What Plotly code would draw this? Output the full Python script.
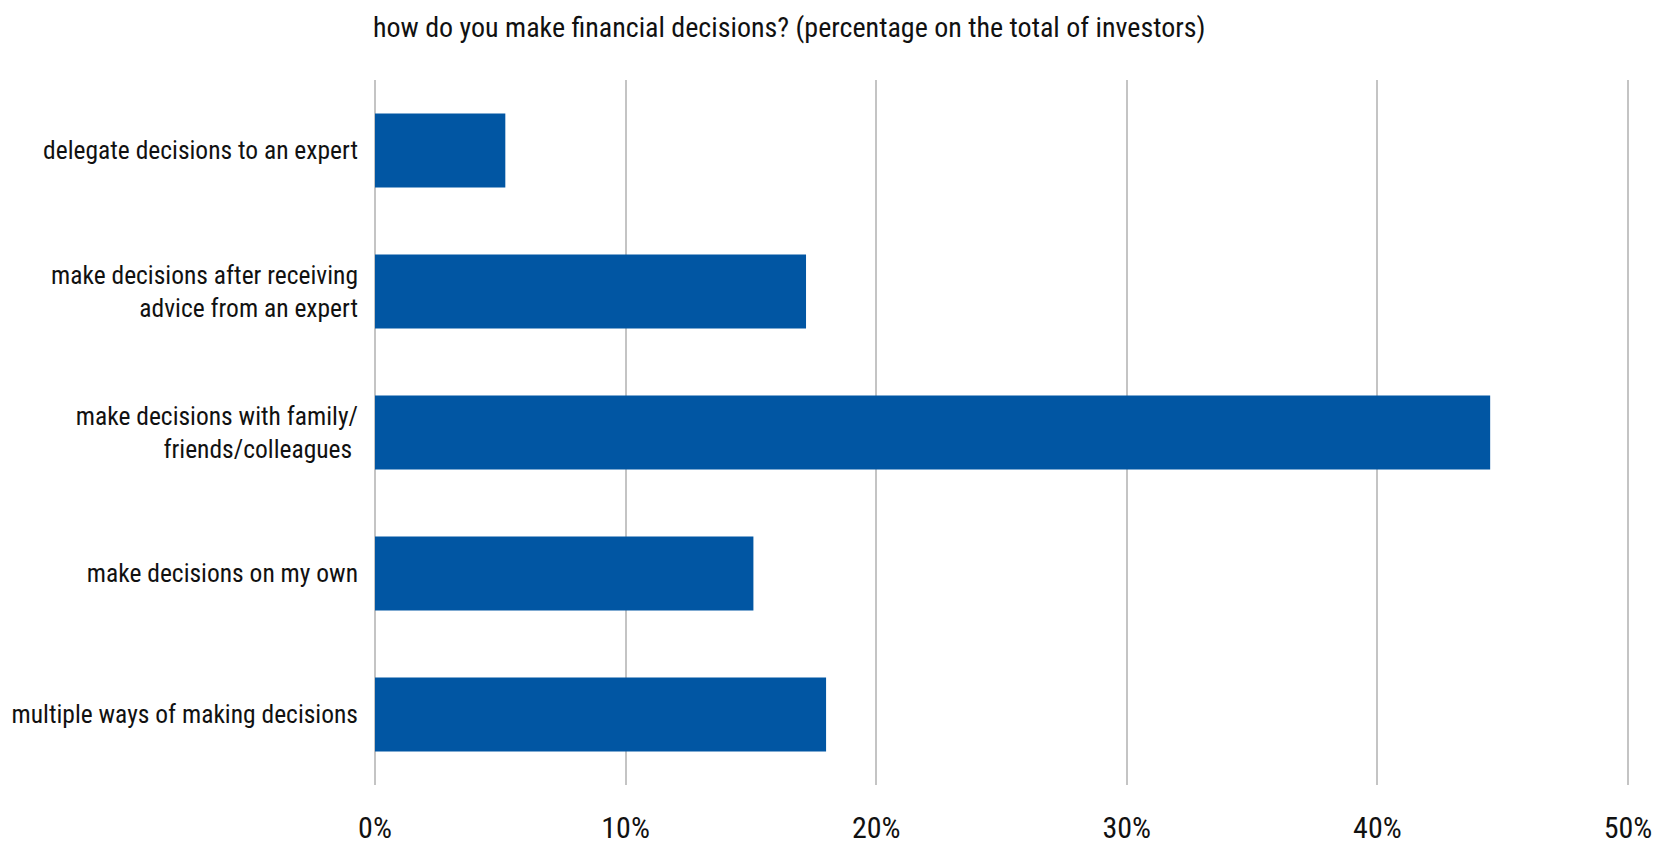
import plotly.graph_objects as go

categories = [
    "delegate decisions to an expert",
    "make decisions after receiving<br>advice from an expert",
    "make decisions with family/<br>friends/colleagues ",
    "make decisions on my own",
    "multiple ways of making decisions",
]
values = [5.2, 17.2, 44.5, 15.1, 18.0]
tick_vals = [0, 10, 20, 30, 40, 50]
tick_text = ["0%", "10%", "20%", "30%", "40%", "50%"]
title_text = "how do you make financial decisions? (percentage on the total of investors)"

FONT = "Roboto Condensed, DejaVu Sans Condensed, sans-serif"

fig = go.Figure(
    go.Bar(
        x=values,
        y=categories,
        orientation="h",
        marker=dict(color="#0156A3", line=dict(width=0)),
        hoverinfo="x+y",
    )
)

fig.update_layout(
    width=1661,
    height=844,
    margin=dict(l=373, r=31, t=80, b=59),
    paper_bgcolor="white",
    plot_bgcolor="white",
    bargap=0.475,
    showlegend=False,
    font=dict(family=FONT, color="#111111", size=25.5),
    title=dict(
        text=title_text,
        font=dict(family=FONT, size=28, color="#111111"),
        xref="paper",
        x=0,
        xanchor="left",
        yref="container",
        y=1 - 27 / 844,
        yanchor="middle",
    ),
    xaxis=dict(
        range=[-0.08, 50.08],
        tickvals=tick_vals,
        ticktext=tick_text,
        showgrid=True,
        gridcolor="#C4C4C4",
        gridwidth=2,
        zeroline=False,
        showline=False,
        ticks="",
        ticklabelstandoff=22,
        tickfont=dict(family=FONT, size=30, color="#111111"),
        automargin=False,
        fixedrange=True,
    ),
    yaxis=dict(
        categoryorder="array",
        categoryarray=categories,
        autorange="reversed",
        showgrid=False,
        zeroline=False,
        showline=False,
        ticks="",
        ticklabelstandoff=14,
        tickfont=dict(family=FONT, size=25.5, color="#111111"),
        automargin=False,
        fixedrange=True,
    ),
)

fig.write_html("out.html")
